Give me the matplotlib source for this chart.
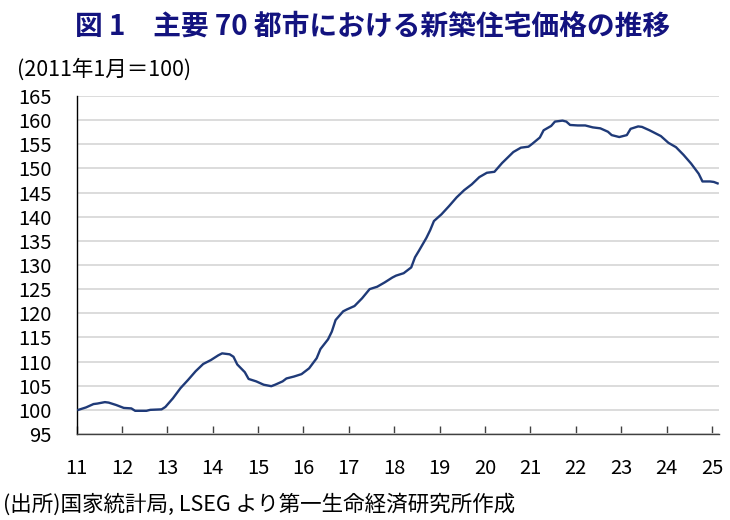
import matplotlib
matplotlib.use('Agg')
import matplotlib.pyplot as plt
import numpy as np

plt.rcParams['font.family'] = ['Noto Sans CJK JP', 'DejaVu Sans']

# values (index, 2011-01 = 100)
months = ['2011-01', '2011-03', '2011-05', '2011-06', '2011-08', '2011-09', '2011-11',
          '2012-01', '2012-03', '2012-04', '2012-07', '2012-08', '2012-11', '2012-12',
          '2013-02', '2013-04', '2013-06', '2013-08', '2013-10', '2013-12',
          '2014-02', '2014-03', '2014-05', '2014-06', '2014-07', '2014-09', '2014-10', '2014-12',
          '2015-02', '2015-04', '2015-05', '2015-07', '2015-08', '2015-10', '2015-12',
          '2016-02', '2016-04', '2016-05', '2016-07', '2016-08', '2016-09', '2016-11', '2016-12',
          '2017-02', '2017-04', '2017-06', '2017-08', '2017-10', '2017-12',
          '2018-01', '2018-03', '2018-05', '2018-06', '2018-07', '2018-09', '2018-10', '2018-11',
          '2019-01', '2019-03', '2019-05', '2019-07', '2019-09', '2019-11',
          '2020-01', '2020-03', '2020-05', '2020-08', '2020-10', '2020-12',
          '2021-01', '2021-03', '2021-04', '2021-06', '2021-07', '2021-09', '2021-10', '2021-11',
          '2022-01', '2022-03', '2022-05', '2022-07', '2022-09', '2022-10', '2022-12',
          '2023-02', '2023-03', '2023-05', '2023-06', '2023-08', '2023-11',
          '2024-01', '2024-03', '2024-05', '2024-07', '2024-09', '2024-10', '2024-12',
          '2025-01', '2025-02']
values = [100.0, 100.5, 101.2, 101.3, 101.6, 101.5, 101.0,
          100.4, 100.3, 99.8, 99.8, 100.0, 100.1, 100.6,
          102.4, 104.5, 106.2, 108.0, 109.5, 110.3,
          111.3, 111.7, 111.5, 111.0, 109.4, 107.8, 106.4, 105.9,
          105.2, 104.9, 105.2, 105.9, 106.5, 106.9, 107.4,
          108.6, 110.7, 112.6, 114.6, 116.2, 118.6, 120.4, 120.8,
          121.5, 123.1, 125.0, 125.5, 126.4, 127.4,
          127.8, 128.3, 129.5, 131.6, 132.9, 135.6, 137.2, 139.1,
          140.5, 142.2, 144.0, 145.5, 146.7, 148.2,
          149.1, 149.3, 151.1, 153.4, 154.3, 154.5,
          155.1, 156.4, 157.9, 158.8, 159.7, 159.9, 159.7, 159.0,
          158.9, 158.9, 158.5, 158.3, 157.6, 156.9, 156.5,
          156.9, 158.2, 158.7, 158.6, 157.9, 156.7,
          155.3, 154.4, 152.8, 151.0, 148.9, 147.3, 147.3,
          147.2, 146.9]

year_labels = [str(y) for y in range(11, 26)]
y_ticks = list(range(95, 166, 5))

# month index from 2011-01, points sit in the middle of each month slot
idx = np.array([(int(m[:4]) - 2011) * 12 + int(m[5:]) - 1 for m in months]) + 0.5

fig = plt.figure(figsize=(7.3, 5.2), dpi=100)
ax = fig.add_axes([0.1048, 0.1654, 0.8808, 0.65])

ax.plot(idx, values, color='#1f3a78', lw=1.7, zorder=3)

ax.set_xlim(0, 170)
ax.set_ylim(95, 165)
ax.set_yticks(y_ticks)
ax.set_xticks(np.arange(0, 169, 12))
ax.set_xticklabels(year_labels)

ax.yaxis.grid(True, color='#d9d9d9', lw=1.3)
ax.set_axisbelow(True)

for s in ['top', 'right']:
    ax.spines[s].set_visible(False)
ax.spines['left'].set_color('black')
ax.spines['left'].set_linewidth(1.0)
ax.spines['bottom'].set_color('#404040')
ax.spines['bottom'].set_linewidth(1.0)

ax.tick_params(axis='y', length=0, pad=18, labelsize=14.5)
ax.tick_params(axis='x', direction='in', length=6, width=1, color='#404040',
               pad=17, labelsize=14.5)

fig.text(0.51, 1 - 27 / 520, '図 1　主要 70 都市における新築住宅価格の推移',
         ha='center', va='center', fontsize=20, fontweight='bold', color='#13137f')
fig.text(17 / 730, 1 - 70 / 520, '(2011年1月＝100)', ha='left', va='center', fontsize=15.5)
fig.text(3 / 730, 1 - 505 / 520, '(出所)国家統計局, LSEG より第一生命経済研究所作成',
         ha='left', va='center', fontsize=15.5)

fig.savefig('out.png', dpi=100)
